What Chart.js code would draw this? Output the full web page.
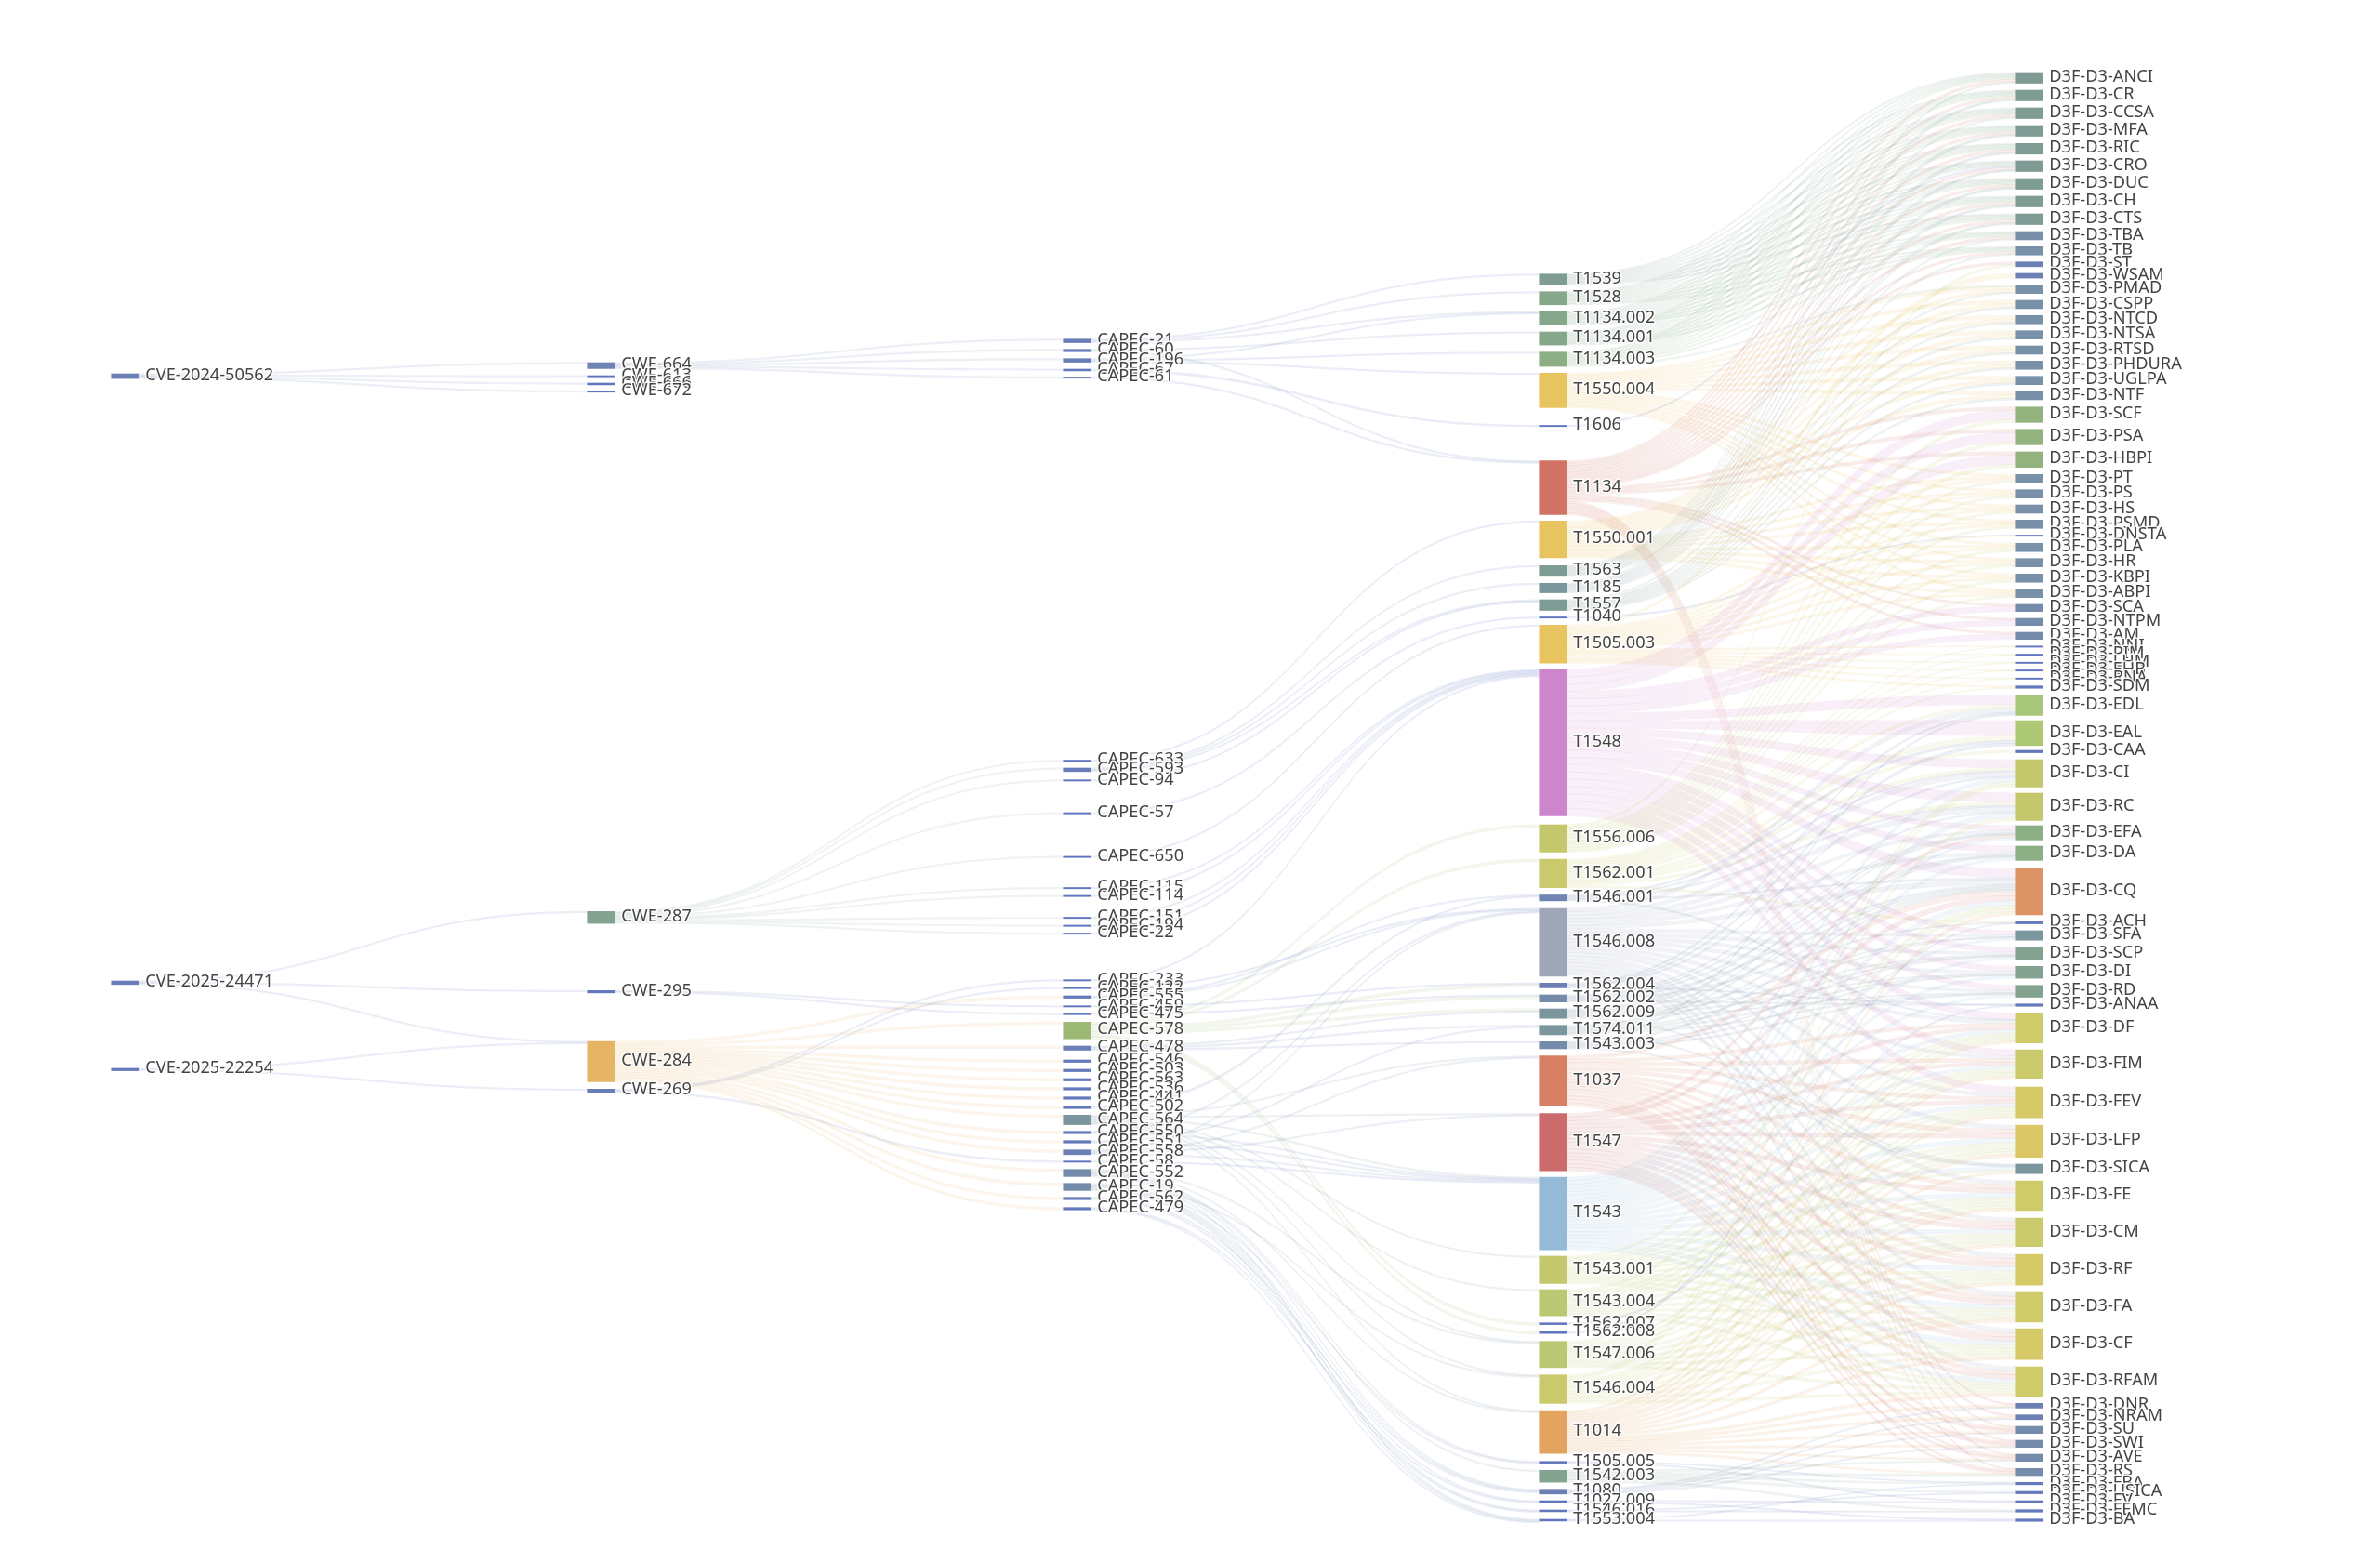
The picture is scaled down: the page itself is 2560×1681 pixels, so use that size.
<!DOCTYPE html>
<html>
<head>
<meta charset="utf-8">
<style>
  html, body { margin: 0; padding: 0; background: #fff; }
  canvas { display: block; }
</style>
<script src="https://cdn.jsdelivr.net/npm/chart.js@4"></script>
</head>
<body>
<canvas id="sankey" width="2560" height="1681"></canvas>
<script>
// node names, where they sit on the y axis, and their weight (links carried)
const cveNames = ["CVE-2024-50562", "CVE-2025-24471", "CVE-2025-22254"];
const cveTops = [402, 1055, 1149];
const cveValues = [4, 3, 2];

const cweNames = ["CWE-664", "CWE-613", "CWE-666", "CWE-672", "CWE-287", "CWE-295", "CWE-284", "CWE-269"];
const cweTops = [390, 404, 412, 420.5, 980.3, 1065.3, 1120, 1171.3];
const cweValues = [5, 1, 1.5, 1, 10, 2, 34, 3];

const capecNames = ["CAPEC-21", "CAPEC-60", "CAPEC-196", "CAPEC-67", "CAPEC-61",
  "CAPEC-633", "CAPEC-593", "CAPEC-94", "CAPEC-57", "CAPEC-650", "CAPEC-115", "CAPEC-114",
  "CAPEC-151", "CAPEC-194", "CAPEC-22", "CAPEC-233", "CAPEC-122", "CAPEC-555", "CAPEC-459",
  "CAPEC-475", "CAPEC-578", "CAPEC-478", "CAPEC-546", "CAPEC-503", "CAPEC-563", "CAPEC-536",
  "CAPEC-441", "CAPEC-502", "CAPEC-564", "CAPEC-550", "CAPEC-551", "CAPEC-558", "CAPEC-58",
  "CAPEC-552", "CAPEC-19", "CAPEC-562", "CAPEC-479"];
const capecTops = [364.7, 375.7, 385.7, 397, 405.5,
  817.5, 826, 838.7, 874, 921, 954.5, 963, 986.5, 995, 1003.5, 1053.7, 1062, 1071, 1081.7,
  1090, 1099.3, 1125, 1140, 1150, 1160, 1169.7, 1179.7, 1189.7, 1199.3, 1216.7, 1226.7, 1236.7, 1248.7,
  1257.7, 1272.7, 1287.7, 1298.7];
const capecValues = [3, 2, 3, 1.5, 1,
  1, 3, 1, 1, 1, 1, 1, 1, 1, 1, 1, 1, 2, 1,
  1, 14, 3.5, 2, 2, 2, 2, 2, 2, 8, 2, 2, 4, 1,
  6, 6, 2, 2];

const techniqueNames = ["T1539", "T1528", "T1134.002", "T1134.001", "T1134.003", "T1550.004", "T1606",
  "T1134", "T1550.001", "T1563", "T1185", "T1557", "T1040", "T1505.003", "T1548", "T1556.006",
  "T1562.001", "T1546.001", "T1546.008", "T1562.004", "T1562.002", "T1562.009", "T1574.011",
  "T1543.003", "T1037", "T1547", "T1543", "T1543.001", "T1543.004", "T1562.007", "T1562.008",
  "T1547.006", "T1546.004", "T1014", "T1505.005", "T1542.003", "T1080", "T1027.009", "T1546.016", "T1553.004"];
const techniqueTops = [294.7, 313.7, 335.3, 357, 378.7, 401.3, 457.5,
  495.7, 560.3, 608.3, 627.3, 645, 663.5, 672.3, 720, 887,
  924, 962.5, 977, 1057.3, 1070, 1085, 1102.7,
  1120.3, 1135.7, 1197.7, 1266, 1351, 1387, 1422.7, 1432.3,
  1442.7, 1478.7, 1517, 1571.7, 1581.3, 1601.7, 1614, 1624, 1634];
const techniqueValues = [9, 11, 11, 11, 12, 29, 1,
  45, 31, 9, 8, 9, 1, 32, 123, 23,
  24, 5, 57, 4, 6, 8, 8,
  6, 42, 48, 61, 23, 22, 1.5, 1.5,
  22, 24, 36, 1.5, 10, 4, 1.5, 1.5, 1.5];

const defenceShort = ["ANCI", "CR", "CCSA", "MFA", "RIC", "CRO", "DUC", "CH", "CTS", "TBA", "TB", "ST", "WSAM",
  "PMAD", "CSPP", "NTCD", "NTSA", "RTSD", "PHDURA", "UGLPA", "NTF", "SCF", "PSA", "HBPI", "PT", "PS", "HS",
  "PSMD", "DNSTA", "PLA", "HR", "KBPI", "ABPI", "SCA", "NTPM", "AM", "NNI", "PIM", "LHM", "EHB", "RNA", "SDM",
  "EDL", "EAL", "CAA", "CI", "RC", "EFA", "DA", "CQ", "ACH", "SFA", "SCP", "DI", "RD", "ANAA", "DF", "FIM",
  "FEV", "LFP", "SICA", "FE", "CM", "RF", "FA", "CF", "RFAM", "DNR", "NRAM", "SU", "SWI", "AVE", "RS", "FBA",
  "USICA", "EV", "FEMC", "BA"];
const defenceTops = [78, 97, 116, 135, 154.3, 173, 192, 211, 230, 249, 265.3, 281.7, 294,
  306.7, 323, 339.3, 355.7, 372, 388.3, 404.7, 421, 437.7, 461.7, 486, 510.3, 526.7, 543,
  559.3, 575.5, 584.3, 600.7, 617.3, 633.7, 650, 665, 680, 694.8, 703.5, 712.2, 720.5, 729.2, 737.7,
  747.7, 775, 807, 817, 853, 888, 910, 934, 991, 1001, 1019, 1039.3, 1059.7, 1079.7, 1089.7, 1129,
  1169, 1210, 1252, 1270, 1310, 1349, 1390, 1429, 1470, 1509.3, 1521.7, 1534, 1549, 1564, 1579.3, 1594.3,
  1604, 1614, 1623.7, 1633.7];
const defenceValues = [9, 9, 9, 9, 9, 9, 9, 9, 9, 7, 7, 4, 4,
  7, 7, 7, 7, 7, 7, 7, 7, 13, 13, 13, 7, 7, 7,
  7, 1, 7, 7, 7, 7, 6, 6, 6, 1, 1, 1, 1, 1, 2,
  17, 21, 2, 23, 23, 12, 12, 39, 2, 8, 10, 10, 10, 2, 25, 24,
  26, 27, 8, 25, 24, 26, 25, 26, 25, 4, 4, 6, 6, 6, 6, 2,
  2, 2, 2, 2];

// which defences each technique feeds, by family
const authGroup = "ANCI CR CCSA MFA RIC CRO DUC CH CTS";
const netGroup = "PMAD CSPP NTCD NTSA RTSD PHDURA UGLPA NTF";
const procGroup = "PT PS HS PSMD PLA HR KBPI ABPI";
const memGroup = "SCA NTPM AM";
const configGroup = "SCF PSA HBPI";
const fileGroup = "EFA DA CQ SFA SCP DI RD";
const monitorGroup = "DF FIM FEV LFP FE CM RF FA CF RFAM";
const bootGroup = "SU SWI AVE RS";

// [source, link weight, targets]
const upstreamRows = [
  ["CVE-2024-50562", 1, "CWE-664 CWE-613 CWE-666 CWE-672"],
  ["CVE-2025-24471", 1, "CWE-287 CWE-295 CWE-284"],
  ["CVE-2025-22254", 1, "CWE-284 CWE-269"],
  ["CWE-664", 1, "CAPEC-21 CAPEC-60 CAPEC-196 CAPEC-67 CAPEC-61"],
  ["CWE-287", 1, "CAPEC-633 CAPEC-593 CAPEC-94 CAPEC-57 CAPEC-650 CAPEC-115 CAPEC-114 CAPEC-151 CAPEC-194 CAPEC-22"],
  ["CWE-295", 1, "CAPEC-459 CAPEC-475"],
  ["CWE-269", 1, "CAPEC-233 CAPEC-122 CAPEC-58"],
  ["CWE-284", 2, "CAPEC-555 CAPEC-578 CAPEC-478 CAPEC-546 CAPEC-503 CAPEC-563 CAPEC-536 CAPEC-441 CAPEC-502 CAPEC-564 CAPEC-550 CAPEC-551 CAPEC-558 CAPEC-552 CAPEC-19 CAPEC-562 CAPEC-479"],
  ["CAPEC-21", 1, "T1539 T1528 T1134.002"],
  ["CAPEC-60", 1, "T1134.001 T1134"],
  ["CAPEC-196", 1, "T1134.002 T1134.003 T1550.004"],
  ["CAPEC-67", 1, "T1606"],
  ["CAPEC-61", 1, "T1134"],
  ["CAPEC-633", 1, "T1550.001"],
  ["CAPEC-593", 1, "T1563 T1185 T1557"],
  ["CAPEC-94", 1, "T1557"],
  ["CAPEC-57", 1, "T1040"],
  ["CAPEC-650", 1, "T1505.003"],
  ["CAPEC-115", 1, "T1548"],
  ["CAPEC-114", 1, "T1548"],
  ["CAPEC-151", 1, "T1548"],
  ["CAPEC-194", 1, "T1548"],
  ["CAPEC-22", 1, "T1548"],
  ["CAPEC-233", 1, "T1548"],
  ["CAPEC-122", 1, "T1546.008"],
  ["CAPEC-555", 1, "T1546.001 T1546.008"],
  ["CAPEC-459", 1, "T1562.004"],
  ["CAPEC-475", 1, "T1562.002"],
  ["CAPEC-578", 2, "T1562.001 T1562.002 T1562.004 T1562.007 T1562.008 T1562.009 T1556.006"],
  ["CAPEC-478", 1, "T1543.003 T1574.011 T1562.009"],
  ["CAPEC-502", 1, "T1546.001"],
  ["CAPEC-564", 1, "T1037 T1547 T1543 T1543.001 T1543.004 T1547.006 T1546.004 T1014"],
  ["CAPEC-550", 1, "T1546.008 T1543"],
  ["CAPEC-551", 1, "T1574.011 T1543"],
  ["CAPEC-558", 1, "T1546.008 T1547 T1543 T1037"],
  ["CAPEC-58", 1, "T1543"],
  ["CAPEC-552", 1, "T1014 T1542.003 T1547.006 T1553.004 T1505.005 T1080"],
  ["CAPEC-19", 1, "T1546.004 T1546.016 T1027.009 T1553.004 T1505.005 T1080"],
  ["CAPEC-562", 1, "T1080 T1546.016"],
  ["CAPEC-479", 1, "T1553.004 T1027.009"]
];
const defenceRows = [
  ["T1539", 1, authGroup],
  ["T1528", 1, authGroup + " TBA TB"],
  ["T1134.002", 1, authGroup + " TBA TB"],
  ["T1134.001", 1, authGroup + " TBA TB"],
  ["T1134.003", 1, authGroup + " TBA TB PMAD"],
  ["T1550.004", 2, netGroup + " " + procGroup],
  ["T1606", 1, "CRO"],
  ["T1134", 2, authGroup + " TBA TB ST " + configGroup + " " + memGroup + " DNR NRAM " + bootGroup],
  ["T1550.001", 2, netGroup + " " + procGroup],
  ["T1563", 1, authGroup],
  ["T1185", 1, "CR MFA RIC CRO DUC CH CTS TBA"],
  ["T1557", 1, "TB " + netGroup],
  ["T1040", 1, "DNSTA"],
  ["T1505.003", 2, "WSAM " + procGroup + " DNSTA NNI PIM LHM EHB RNA SDM"],
  ["T1548", 6, configGroup + " " + memGroup + " EDL EAL CI RC " + fileGroup + " DF FIM FEV"],
  ["T1556.006", 2, configGroup + " " + procGroup + " ST"],
  ["T1562.001", 2, "NNI PIM LHM EHB RNA SDM CAA EAL CI RC ACH EDL"],
  ["T1546.001", 1, "EAL CI RC CQ DF"],
  ["T1546.008", 3, "EDL CI RC " + fileGroup + " " + monitorGroup],
  ["T1562.004", 1, "EDL EAL CI ANAA"],
  ["T1562.002", 1, "EFA DA CQ RC ANAA ACH"],
  ["T1562.009", 1, "EFA DA CQ SFA SCP DI RD SICA"],
  ["T1574.011", 1, "EFA DA CQ SFA SCP DI RD SICA"],
  ["T1543.003", 1, "CQ DI RD SCP EDL SICA"],
  ["T1037", 3, "CQ " + monitorGroup + " " + bootGroup],
  ["T1547", 3, "CQ EFA " + monitorGroup + " " + bootGroup],
  ["T1543", 3, "CI RC " + fileGroup + " " + monitorGroup + " SICA"],
  ["T1543.001", 2, "CQ SICA " + monitorGroup],
  ["T1543.004", 2, "CQ " + monitorGroup],
  ["T1562.007", 1, "ANAA"],
  ["T1562.008", 1, "ACH"],
  ["T1547.006", 2, "CI " + monitorGroup],
  ["T1546.004", 2, "CI RC " + monitorGroup],
  ["T1014", 2, "CQ SICA DNR NRAM " + monitorGroup + " " + bootGroup],
  ["T1505.005", 1, "FBA EV"],
  ["T1542.003", 2, "RS AVE FBA USICA FEMC"],
  ["T1080", 1, "DNR NRAM SU SWI"],
  ["T1027.009", 1, "EV BA"],
  ["T1546.016", 1, "USICA FEMC"],
  ["T1553.004", 1, "FBA BA"]
];

// drawing setup
const bandWidth = 29.5;
const unit = 1.28;
const ribbonAlpha = 0.13;
const ribbonPad = 0.5;
const colorStops = [
  [1, "#5f75bf"], [4, "#6c80b5"], [7, "#7890a8"], [9, "#7f9c94"], [11, "#86a88a"],
  [13, "#92b37e"], [14, "#9cba75"], [17, "#a8c77a"], [21, "#aec975"], [23, "#c4c76c"], [25, "#cfca6a"],
  [29, "#e7c460"], [32, "#e8c460"], [34, "#e6b465"], [36, "#e2a45f"], [39, "#dc9464"], [42, "#d78064"],
  [45, "#d17365"], [48, "#cc6b6b"], [57, "#9ea6ba"], [61, "#94bad8"], [123, "#cd85cc"]
];

function hexRgb(hex) {
  return [1, 3, 5].map(i => parseInt(hex.slice(i, i + 2), 16));
}

function nodeColor(value) {
  let stop = colorStops.findIndex(s => s[0] >= value);
  if (stop <= 0) return stop === 0 ? colorStops[0][1] : colorStops[colorStops.length - 1][1];
  const [v0, c0] = colorStops[stop - 1];
  const [v1, c1] = colorStops[stop];
  const t = (value - v0) / (v1 - v0);
  const a = hexRgb(c0), b = hexRgb(c1);
  return "rgb(" + a.map((c, i) => Math.round(c + (b[i] - c) * t)).join(",") + ")";
}

const defenceNames = defenceShort.map(s => "D3F-D3-" + s);
const columns = [
  [cveNames, cveTops, cveValues],
  [cweNames, cweTops, cweValues],
  [capecNames, capecTops, capecValues],
  [techniqueNames, techniqueTops, techniqueValues],
  [defenceNames, defenceTops, defenceValues]
];

const nodes = {};
columns.forEach(([names, tops, values], col) => {
  names.forEach((name, i) => {
    nodes[name] = { name, col, top: tops[i], value: values[i], height: values[i] * unit, outs: [], ins: [] };
  });
});

const links = [];
function addLink(source, target, value) {
  const link = { source: nodes[source], target: nodes[target], value };
  links.push(link);
  link.source.outs.push(link);
  link.target.ins.push(link);
}
upstreamRows.forEach(([s, v, t]) => t.split(" ").forEach(n => addLink(s, n, v)));
defenceRows.forEach(([s, v, t]) => t.split(" ").forEach(n => addLink(s, "D3F-D3-" + n, v)));

// stack the links along each node edge, nearest partner first
function mid(node) { return node.top + node.height / 2; }
Object.values(nodes).forEach(node => {
  const outSum = node.outs.reduce((a, l) => a + l.value, 0);
  const inSum = node.ins.reduce((a, l) => a + l.value, 0);
  let y = node.top;
  node.outs.slice().sort((a, b) => mid(a.target) - mid(b.target)).forEach(l => {
    l.y0 = y;
    l.w0 = node.height * l.value / outSum;
    y += l.w0;
  });
  y = node.top;
  node.ins.slice().sort((a, b) => mid(a.source) - mid(b.source)).forEach(l => {
    l.y1 = y;
    l.w1 = node.col === 4 ? node.height * l.value / inSum : l.value * unit;
    y += l.w1;
  });
});

const ribbonPlugin = {
  id: "ribbons",
  beforeDatasetsDraw(chart) {
    const { ctx, scales: { x, y } } = chart;
    ctx.save();
    ctx.globalAlpha = ribbonAlpha;
    links.forEach(l => {
      const x0 = x.getPixelForValue(l.source.col) + bandWidth / 2;
      const x1 = x.getPixelForValue(l.target.col) - bandWidth / 2;
      const xm = (x0 + x1) / 2;
      const a0 = y.getPixelForValue(l.y0) - ribbonPad, a1 = y.getPixelForValue(l.y1) - ribbonPad;
      const b0 = y.getPixelForValue(l.y0 + l.w0) + ribbonPad, b1 = y.getPixelForValue(l.y1 + l.w1) + ribbonPad;
      ctx.beginPath();
      ctx.moveTo(x0, a0);
      ctx.bezierCurveTo(xm, a0, xm, a1, x1, a1);
      ctx.lineTo(x1, b1);
      ctx.bezierCurveTo(xm, b1, xm, b0, x0, b0);
      ctx.closePath();
      ctx.fillStyle = nodeColor(l.source.value);
      ctx.fill();
    });
    ctx.restore();
  }
};

const labelPlugin = {
  id: "nodeLabels",
  afterDatasetsDraw(chart) {
    const { ctx, scales: { x, y } } = chart;
    ctx.save();
    ctx.font = '18.2px "Noto Sans"';
    ctx.textBaseline = "middle";
    ctx.lineJoin = "round";
    Object.values(nodes).forEach(node => {
      const px = x.getPixelForValue(node.col) + bandWidth / 2 + 7;
      const py = y.getPixelForValue(mid(node)) - 1;
      ctx.strokeStyle = "rgba(255,255,255,0.9)";
      ctx.lineWidth = 3;
      ctx.strokeText(node.name, px, py);
      ctx.fillStyle = "#444";
      ctx.fillText(node.name, px, py);
    });
    ctx.restore();
  }
};

new Chart("sankey", {
  type: "bar",
  data: {
    datasets: columns.map(([names, tops, values], col) => ({
      label: "column " + col,
      data: names.map((n, i) => ({ x: col, y: [tops[i], tops[i] + values[i] * unit] })),
      backgroundColor: values.map(nodeColor),
      barThickness: bandWidth,
      borderSkipped: false,
      grouped: false
    }))
  },
  options: {
    responsive: false,
    animation: false,
    devicePixelRatio: 1,
    layout: { padding: 0 },
    plugins: { legend: { display: false }, tooltip: { enabled: false } },
    scales: {
      x: { type: "linear", min: -134.5 / 512, max: (2560 - 134.5) / 512, offset: false, display: false },
      y: { type: "linear", min: 0, max: 1681, reverse: true, display: false }
    }
  },
  plugins: [ribbonPlugin, labelPlugin]
});
</script>
</body>
</html>
